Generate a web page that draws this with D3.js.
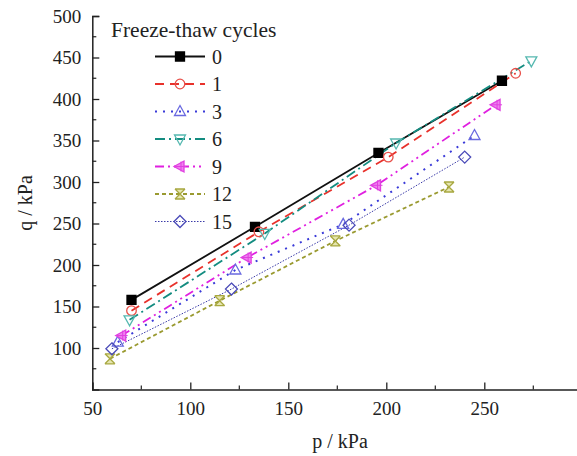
<!DOCTYPE html>
<html><head><meta charset="utf-8">
<script src="https://cdn.jsdelivr.net/npm/d3@7"></script>
<style>body{margin:0;background:#fff}svg{display:block}</style>
</head><body><svg id="c" width="577" height="456"></svg>
<script>
// Data
const seriesNames = ["0","1","3","6","9","12","15"];
const p0 = [70, 133, 196, 259],  q0 = [158, 246, 335, 422];
const p1 = [70, 135, 201, 266],  q1 = [145, 240, 330, 431];
const p3 = [63, 123, 178, 245],  q3 = [107, 194, 249, 356];
const p6 = [69, 138, 205, 274],  q6 = [134, 238, 347, 446];
const p9 = [65, 129, 195, 256],  q9 = [115, 209, 296, 393];
const p12 = [59, 115, 174, 232], q12 = [87, 157, 229, 294];
const p15 = [60, 121, 181, 240], q15 = [99, 171, 248, 330];
const xTicks = [50, 100, 150, 200, 250];
const yTicks = [100, 150, 200, 250, 300, 350, 400, 450, 500];

const FONT = '"Liberation Serif", "Times New Roman", Times, "DejaVu Serif", serif';
const pData = [p0,p1,p3,p6,p9,p12,p15], qData = [q0,q1,q3,q6,q9,q12,q15];
const styles = [
  {line:"#111", dash:null, w:1.8, mk:"square", mf:"#000", ms:"#000"},
  {line:"#e8312b", dash:"9,6", w:1.8, mk:"circle", mf:"none", ms:"#e8504a"},
  {line:"#3a3ad8", dash:"2,6", w:2, mk:"triup", mf:"none", ms:"#6a6ae0"},
  {line:"#138c80", dash:"10,4,2,4", w:1.8, mk:"tridown", mf:"none", ms:"#55b8b0"},
  {line:"#e020e0", dash:"9,4,2,4,2,4", w:1.8, mk:"trileft", mf:"#f080f0", ms:"#e040e0"},
  {line:"#9a9a30", dash:"4,3", w:1.8, mk:"x", mf:"#e6e6b0", ms:"#a8a840"},
  {line:"#3a3aa8", dash:"1.5,1.5", w:1, mk:"diamond", mf:"none", ms:"#4a4ab8"}
];

const svg = d3.select("#c");
const x = d3.scaleLinear().domain([50, 300]).range([92.3, 582.3]);
const y = d3.scaleLinear().domain([50, 500]).range([389.5, 16]);

function markerPath(type) {
  switch (type) {
    case "square": return "M-4.5,-4.5H4.5V4.5H-4.5Z";
    case "circle": return d3.symbol(d3.symbolCircle, 72)();
    case "triup": case "tridown": case "trileft": return "M0,-6L5.5,4L-5.5,4Z";
    case "diamond": return "M0,-6L6,0L0,6L-6,0Z";
    case "x": return "M-5,-5L5,5M-5,5L5,-5M-5,-5L5,-5M-5,5L5,5";
  }
}
function markerRot(type) {
  return type === "tridown" ? 180 : type === "trileft" ? -90 : 0;
}
function drawMarker(g, s, cx, cy) {
  const m = g.append("g").attr("transform", `translate(${cx},${cy}) rotate(${markerRot(s.mk)})`);
  if (s.mk === "x") {
    m.append("path").attr("d", "M-5,-5L5,-5L-5,5L5,5Z").attr("fill", s.mf).attr("stroke", "none");
  }
  m.append("path").attr("d", markerPath(s.mk))
    .attr("fill", s.mf).attr("stroke", s.ms).attr("stroke-width", 1.3);
  if (s.mk === "trileft") {
    m.append("path").attr("d", "M0,-5L0,6M-5,1L5,1").attr("stroke", s.ms).attr("stroke-width", 1);
  }
}

// Axes
const xAxis = d3.axisBottom(x).tickValues(xTicks).tickSize(-7).tickPadding(12).tickFormat(d3.format("d"));
const yAxis = d3.axisLeft(y).tickValues(yTicks).tickSize(-7).tickPadding(11).tickFormat(d3.format("d"));
const gx = svg.append("g").attr("transform", `translate(0,${y(50)})`).call(xAxis);
const gy = svg.append("g").attr("transform", `translate(${x(50)},0)`).call(yAxis);
[gx, gy].forEach(g => {
  g.attr("font-family", FONT).attr("font-size", 19);
  g.select(".domain").attr("stroke", "#222").attr("stroke-width", 1.5);
  g.selectAll(".tick line").attr("stroke", "#222").attr("stroke-width", 1.3);
  g.selectAll(".tick text").attr("fill", "#222");
});
// minor ticks
const xMinor = [75, 125, 175, 225, 275];
const yMinor = [75, 125, 175, 225, 275, 325, 375, 425, 475];
svg.append("g").selectAll("line").data(xMinor).join("line")
  .attr("x1", d => x(d)).attr("x2", d => x(d)).attr("y1", y(50)).attr("y2", y(50) - 4)
  .attr("stroke", "#222").attr("stroke-width", 1.2);
svg.append("g").selectAll("line").data(yMinor).join("line")
  .attr("x1", x(50)).attr("x2", x(50) + 4).attr("y1", d => y(d)).attr("y2", d => y(d))
  .attr("stroke", "#222").attr("stroke-width", 1.2);

// Axis titles
svg.append("text").attr("x", 340).attr("y", 448).attr("text-anchor", "middle")
  .attr("font-family", FONT).attr("fill", "#222").attr("font-size", 20).text("p / kPa");
svg.append("text").attr("transform", "translate(32,203) rotate(-90)").attr("text-anchor", "middle")
  .attr("font-family", FONT).attr("fill", "#222").attr("font-size", 20).text("q / kPa");

// Series
const line = d3.line().x(d => x(d[0])).y(d => y(d[1]));
const plot = svg.append("g");
seriesNames.forEach((name, i) => {
  const s = styles[i];
  const pts = pData[i].map((p, j) => [p, qData[i][j]]);
  plot.append("path").datum(pts).attr("d", line).attr("fill", "none")
    .attr("stroke", s.line).attr("stroke-width", s.w).attr("stroke-dasharray", s.dash);
});
seriesNames.forEach((name, i) => {
  const s = styles[i];
  pData[i].forEach((p, j) => drawMarker(plot, s, x(p), y(qData[i][j])));
});

// Legend
const lg = svg.append("g").attr("font-family", FONT).attr("fill", "#222");
lg.append("text").attr("x", 111).attr("y", 37).attr("font-size", 21.5).text("Freeze-thaw cycles");
seriesNames.forEach((name, i) => {
  const s = styles[i];
  const cy = 56.5 + i * 27.5;
  lg.append("line").attr("x1", 155).attr("x2", 205).attr("y1", cy).attr("y2", cy)
    .attr("stroke", s.line).attr("stroke-width", s.w).attr("stroke-dasharray", s.dash);
  drawMarker(lg, s, 180, cy);
  lg.append("text").attr("x", 212).attr("y", cy + 7).attr("font-size", 20).text(name);
});
</script></body></html>
